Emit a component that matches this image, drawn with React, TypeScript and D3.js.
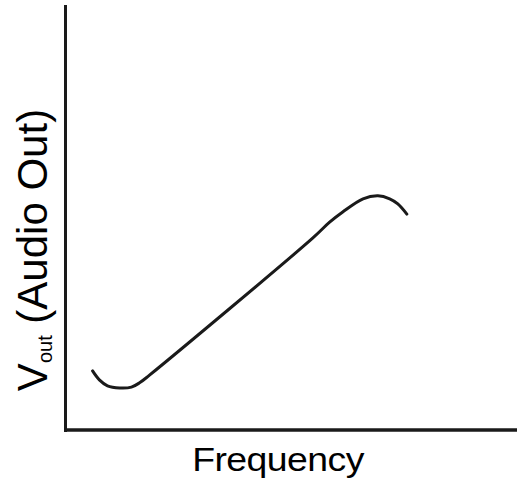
import React from "react";
import * as d3 from "d3";

const freq = [6, 7.5, 9.3, 12, 14.6, 16.4, 18.6, 54.8, 58.5, 61.4, 65.9, 69.2, 71.8, 73.6, 75.6];
const vout = [13.9, 11.8, 10.4, 9.9, 10.1, 11.1, 12.9, 45.2, 48.9, 51.3, 54.4, 55.1, 54.4, 53.2, 50.8];
const xLabel = "Frequency";
const yLabelMain = "V";
const yLabelSub = "out";
const yLabelRest = " (Audio Out)";

const W = 517;
const H = 487;
const left = 65.5;
const bottom = 430;
const top = 5;

export default function App() {
  const x = d3.scaleLinear().domain([0, 100]).range([left, W]);
  const y = d3.scaleLinear().domain([0, 100]).range([bottom, top]);
  const pts = freq.map((f, i) => [f, vout[i]] as [number, number]);
  const line = d3
    .line<[number, number]>()
    .x((d) => x(d[0]))
    .y((d) => y(d[1]))
    .curve(d3.curveCatmullRom.alpha(0.5));
  const font = "'Liberation Sans', Arial, sans-serif";
  return (
    <svg
      width={W}
      height={H}
      style={{ position: "absolute", left: 0, top: 0, background: "#fff" }}
    >
      <line x1={x(0)} x2={x(0)} y1={y(100)} y2={bottom + 2} stroke="#1a1a1a" strokeWidth={3} />
      <line x1={x(0) - 1.5} x2={x(100)} y1={y(0)} y2={y(0)} stroke="#1a1a1a" strokeWidth={3.5} />
      <path d={line(pts) || ""} fill="none" stroke="#1a1a1a" strokeWidth={3} strokeLinecap="round" strokeLinejoin="round" />
      <text
        transform="translate(278, 471) scale(1.1, 1)"
        textAnchor="middle"
        fontFamily={font}
        fontSize={34}
        fill="#000"
        letterSpacing={-0.5}
      >
        {xLabel}
      </text>
      <text
        transform={`translate(47, 250) rotate(-90)`}
        textAnchor="middle"
        fontFamily={font}
        fontSize={42}
        fill="#000"
      >
        <tspan>{yLabelMain}</tspan>
        <tspan fontSize={20} dy={5}>{yLabelSub}</tspan>
        <tspan dy={-5}>{yLabelRest}</tspan>
      </text>
    </svg>
  );
}
